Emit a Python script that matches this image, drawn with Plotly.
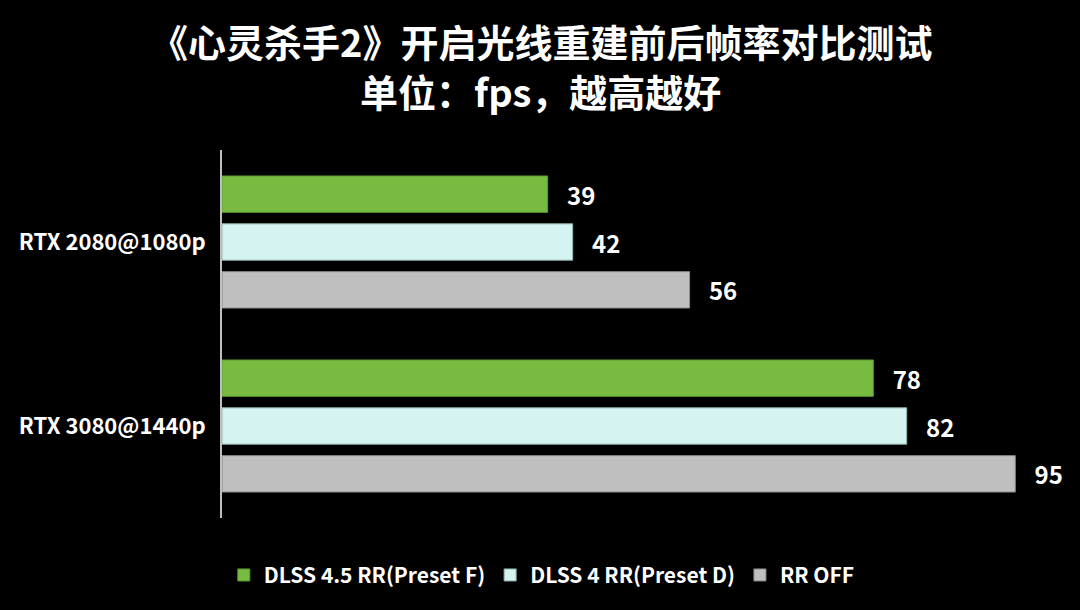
import plotly.graph_objects as go

# 《心灵杀手2》 fps with / without ray reconstruction
categories = ["RTX 2080@1080p", "RTX 3080@1440p"]
series_names = ["DLSS 4.5 RR(Preset F)", "DLSS 4 RR(Preset D)", "RR OFF"]
dlss45_fps = [39, 78]
dlss4_fps = [42, 82]
rr_off_fps = [56, 95]

title_line1 = "《心灵杀手2》开启光线重建前后帧率对比测试"
title_line2 = "单位：fps，越高越好"

colors = ["#77BC41", "#D5F3F0", "#BFBFBF"]
outline = ["#5E9A33", "#8FB2AF", "#8C8C8C"]

font_name = "Noto Sans CJK SC"
pad = "\u00a0" * 3  # push value labels a bit away from the bar end

fig = go.Figure()
for name, vals, col, oc in zip(series_names, [dlss45_fps, dlss4_fps, rr_off_fps], colors, outline):
    fig.add_trace(go.Bar(
        y=categories,
        x=vals,
        name=name,
        orientation="h",
        marker=dict(color=col, line=dict(color=oc, width=1)),
        text=[pad + str(v) for v in vals],
        textposition="outside",
        cliponaxis=False,
        textfont=dict(family=font_name, size=24, color="white", weight="bold"),
    ))

# two title lines as annotations (multi-line title gets clipped)
for txt, ypos in [(title_line1, 1.298), (title_line2, 1.162)]:
    fig.add_annotation(
        text=txt, xref="paper", yref="paper", x=0.382, y=ypos,
        xanchor="center", yanchor="middle", showarrow=False,
        font=dict(family=font_name, size=38, color="white", weight="bold"),
    )

fig.update_layout(
    width=1080,
    height=610,
    paper_bgcolor="black",
    plot_bgcolor="black",
    font=dict(family=font_name, color="white"),
    barmode="group",
    bargap=0.22,
    bargroupgap=0.24,
    margin=dict(l=222, r=23, t=150, b=92),
    legend=dict(
        orientation="h",
        x=0.383,
        xanchor="center",
        y=-0.1,
        yanchor="top",
        font=dict(family=font_name, size=21, color="white", weight="bold"),
        traceorder="normal",
    ),
    showlegend=True,
)

fig.update_xaxes(
    range=[0, 100],
    showgrid=False,
    showticklabels=False,
    zeroline=False,
    showline=False,
)
fig.update_yaxes(
    autorange="reversed",
    showgrid=False,
    showline=True,
    linecolor="#BFBFBF",
    linewidth=2,
    ticks="outside",
    ticklen=10,
    tickcolor="black",
    tickfont=dict(family=font_name, size=22, color="white", weight="bold"),
)

fig.write_html("out.html", config={"displayModeBar": False},
               post_script="document.body.style.margin='0';document.body.style.background='black';")
